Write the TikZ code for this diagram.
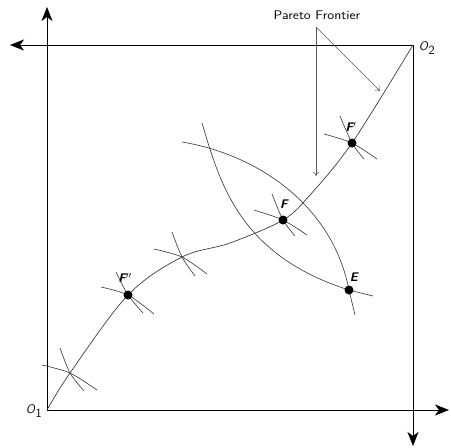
\documentclass[tikz,border=0pt]{standalone}
\usepackage{fontspec}
\usetikzlibrary{arrows.meta}
\begin{document}
\begin{tikzpicture}[x=1pt,y=-1pt,
  axis/.style={line width=0.7pt, -{Stealth[length=14pt,width=11pt,inset=4pt]}},
  curve/.style={line width=0.65pt, black!80},
  icurve/.style={line width=0.65pt, black!75},
  dot/.style={circle, fill=black, inner sep=0pt, minimum size=9pt},
  lbl/.style={font=\sffamily\bfseries\slshape\fontsize{12.5}{14}\selectfont, inner sep=0pt},
  olbl/.style={font=\sffamily\fontsize{12.5}{14}\selectfont, inner sep=0pt},
  pointer/.style={line width=0.55pt, black!65, -{To[length=4pt,width=6pt]}},
]
\useasboundingbox (0,0) rectangle (451,448);

% origins and axis tips
\coordinate (o1) at (47,410);
\coordinate (o2) at (413,45);
\coordinate (ytip) at (47,7);
\coordinate (xtip) at (449,410);
\coordinate (ltip) at (10,45);
\coordinate (dtip) at (413,446);

\draw[axis] (o1) -- (ytip);
\draw[axis] (o1) -- (xtip);
\draw[axis] (o2) -- (ltip);
\draw[axis] (o2) -- (dtip);

\node[olbl] (o1l) at (34,411) {$\textsf{\textit{O}}_{\textsf{1}}$};
\node[olbl] (o2l) at (427,48) {$\textsf{\textit{O}}_{\textsf{2}}$};

% points on contract curve
\coordinate (ca) at (70,373);
\coordinate (cFpp) at (128,295);
\coordinate (cb) at (182,257);
\coordinate (cF) at (283,220);
\coordinate (cFp) at (352,143);
\coordinate (cE) at (349,290);

% lens (indifference curves through E)
\draw[icurve] (182,142) .. controls (260,155) and (333,207) .. (cE) -- (355,315);
\draw[icurve] (202,123) .. controls (220,183) and (239,255) .. (cE) -- (373,296);

% contract curve
\draw[curve] plot[smooth, tension=0.55] coordinates
  {(o1) (ca) (cFpp) (cb) (230,243) (cF) (310,195) (cFp) (o2)};

% small crossing arcs
\draw[icurve] plot[smooth] coordinates {(42,365) (ca) (97,390)};
\draw[icurve] plot[smooth] coordinates {(60,348) (ca) (84,391)};
\draw[icurve] plot[smooth] coordinates {(101,287) (cFpp) (154,314)};
\draw[icurve] plot[smooth] coordinates {(116,272) (cFpp) (143,313)};
\draw[icurve] plot[smooth] coordinates {(154,249) (cb) (207,274)};
\draw[icurve] plot[smooth] coordinates {(172,232) (cb) (195,276)};
\draw[icurve] plot[smooth] coordinates {(254,210) (cF) (307,235)};
\draw[icurve] plot[smooth] coordinates {(272,194) (cF) (295,236)};
\draw[icurve] plot[smooth] coordinates {(324,134) (cFp) (377,159)};
\draw[icurve] plot[smooth] coordinates {(340,116) (cFp) (364,159)};

% dots
\node[dot] (Fpp) at (cFpp) {};
\node[dot] (F) at (cF) {};
\node[dot] (Fp) at (cFp) {};
\node[dot] (E) at (cE) {};

% labels
\node[lbl] (lFpp) at (125,278) {F$''$};
\node[lbl] (lF) at (284,204) {F};
\node[lbl] (lFp) at (351,127) {F$'$};
\node[lbl] (lE) at (354,277) {E};

% Pareto frontier annotation
\node[olbl] (pf) at (317,15) {\scalebox{1.12}[1]{Pareto Frontier}};
\coordinate (pstart) at (316,27);
\coordinate (pend1) at (316,176);
\coordinate (pend2) at (380,91);
\draw[pointer] (pstart) -- (pend1);
\draw[pointer] (pstart) -- (pend2);
\end{tikzpicture}
\end{document}
